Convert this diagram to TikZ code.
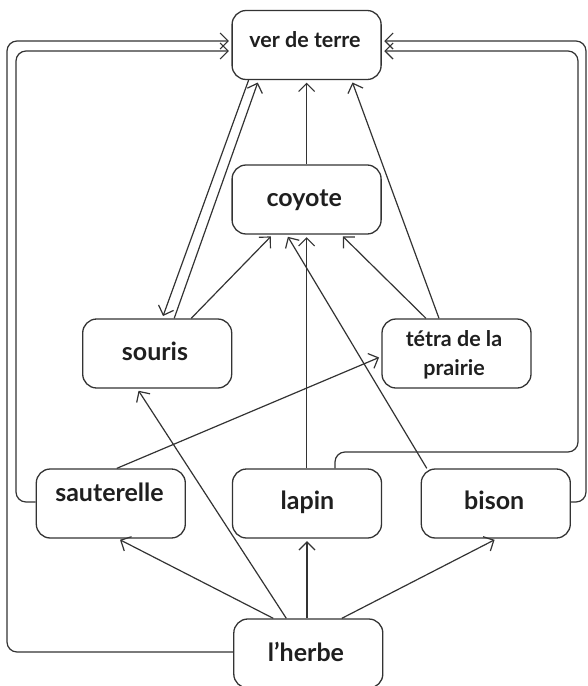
\documentclass[tikz,border=0pt]{standalone}
\usepackage{fontspec}
\setmainfont{Lato}
\usetikzlibrary{arrows.meta,calc}
\definecolor{ink}{HTML}{333333}
\definecolor{txt}{HTML}{1F1F1F}
\tikzset{
  box/.style={draw=ink, line width=1.3pt, rounded corners=14pt,
    minimum width=149pt, minimum height=69pt, inner sep=0pt},
  labbig/.style={font=\fontsize{25}{30}\selectfont\bfseries, text=txt, inner sep=0pt},
  labsmall/.style={font=\fontsize{21.5}{28.5}\selectfont\bfseries, text=txt, inner sep=0pt},
  link/.style={draw=ink, line width=1.2pt,
    -{Straight Barb[length=8pt,width=16pt,line width=1.2pt]}, shorten >=2.5pt},
  wrap/.style={link, rounded corners=10pt}
}
\begin{document}
\begin{tikzpicture}[x=1pt,y=-1pt]
\useasboundingbox (0,0) rectangle (587,686);

% boxes
\node[box] (vt)     at (306.6,45)    {};
\node[box] (coyote) at (306.6,199.5) {};
\node[box] (souris) at (157.2,353.5) {};
\node[box] (tetra)  at (456.5,353.5) {};
\node[box] (saut)   at (110.8,503.5) {};
\node[box] (lapin)  at (307,503.5)   {};
\node[box] (bison)  at (495.8,503.5) {};
\node[box] (herbe)  at (308.3,653.5) {};

% labels
\node[labsmall, anchor=base] (vt-t)     at (305,47)      {ver de terre};
\node[labbig,   anchor=base] (coyote-t) at (304.2,206.7) {coyote};
\node[labbig,   anchor=base] (souris-t) at (155,360)     {souris};
\node[labsmall, align=center] (tetra-t) at (454,355)     {tétra de la\\prairie};
\node[labbig,   anchor=base] (saut-t)   at (109.5,501)   {sauterelle};
\node[labbig,   anchor=base] (lapin-t)  at (307.5,509.3) {lapin};
\node[labbig,   anchor=base] (bison-t)  at (494.2,509.3) {bison};
\node[labbig,   anchor=base] (herbe-t)  at (306,661.7)   {l’herbe};

% long connectors around the sides
\draw[wrap] ([yshift=1.5pt]herbe.west) -| (7,41) -- ([yshift=4pt]vt.west);
\draw[wrap] ([yshift=1.5pt]saut.west) -| (16,51) -- ([yshift=-6pt]vt.west);
\draw[wrap] ([yshift=1.5pt]bison.east) -| (586,41) -- ([yshift=4pt]vt.east);
\draw[wrap] ([xshift=28pt]lapin.north) |- (578,452) |- ([yshift=-6pt]vt.east);

% inner connectors
\draw[link] (coyote.north) -- (vt.south);
\draw[link] ([xshift=-17.5pt]tetra.north) -- ([xshift=45pt]vt.south);
\draw[link] ([xshift=-30.5pt]tetra.north) -- ([xshift=34.5pt]coyote.south);
\draw[link] ([xshift=17pt]souris.north) -- ([xshift=-48pt]vt.south);
\draw[link] ([xshift=-58pt]vt.south) -- ([xshift=5pt]souris.north);
\draw[link] ([xshift=34pt]souris.north) -- ([xshift=-34pt]coyote.south);
\draw[link] ([xshift=-69pt]bison.north) -- ([xshift=-20pt]coyote.south);
\draw[link] (lapin.north -| coyote.south) -- (coyote.south);
\draw[link] ([xshift=-35pt]herbe.north) -- ([xshift=7pt]saut.south);
\draw[link] ([xshift=-22pt]herbe.north) -- ([xshift=-20pt]souris.south);
\draw[link] (herbe.north -| lapin.south) -- (lapin.south);
\draw[link] ([xshift=33.5pt]herbe.north) -- ([xshift=1pt]bison.south);
\draw[link] ([xshift=6pt]saut.north) -- ([yshift=-3pt]tetra.west);
\end{tikzpicture}
\end{document}
